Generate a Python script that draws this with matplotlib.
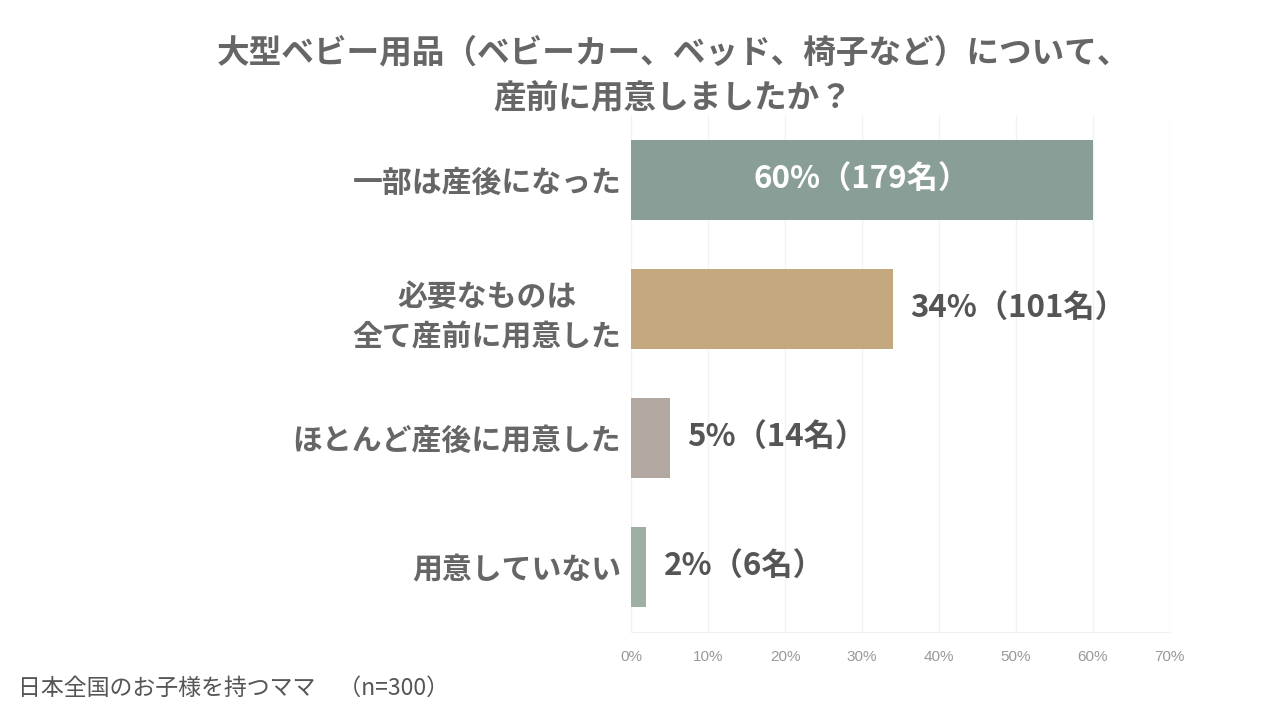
import matplotlib
matplotlib.use("Agg")
import matplotlib.pyplot as plt

plt.rcParams["font.family"] = ["Noto Sans CJK JP", "DejaVu Sans"]

categories = ["一部は産後になった", "必要なものは\n全て産前に用意した", "ほとんど産後に用意した", "用意していない"]
percents = [60, 34, 5, 2]
counts = [179, 101, 14, 6]
colors = ["#8a9e98", "#c4a880", "#b3a7a1", "#9db0a3"]
xticks = [0, 10, 20, 30, 40, 50, 60, 70]

title = "大型ベビー用品（ベビーカー、ベッド、椅子など）について、\n産前に用意しましたか？"
note = "日本全国のお子様を持つママ　（n=300）"

fig = plt.figure(figsize=(12.8, 7.2), dpi=100)
ax = fig.add_axes([0.493, 0.1229, 0.421, 0.7167])

y = list(range(len(categories)))
ax.barh(y, percents, height=0.62, color=colors, zorder=3)
ax.set_ylim(len(categories) - 0.5, -0.5)
ax.set_xlim(0, 70)

for i, (p, c) in enumerate(zip(percents, counts)):
    label = f"{p}%（{c}名）"
    if p > 40:
        ax.text(p / 2, i, label, ha="center", va="center", color="white",
                fontsize=22.5, fontweight="bold", zorder=4)
    else:
        ax.text(p + 2.3, i, label, ha="left", va="center", color="#555555",
                fontsize=22.5, fontweight="bold", zorder=4)

ax.set_yticks(y)
ax.set_yticklabels(categories, fontsize=21.5, fontweight="bold", color="#666666",
                   linespacing=1.45, multialignment="center")
ax.set_xticks(xticks)
ax.set_xticklabels([f"{t}%" for t in xticks], fontsize=11, color="#999999",
                   family=["Liberation Sans", "DejaVu Sans"])
ax.tick_params(axis="y", length=0, pad=7)
ax.tick_params(axis="x", length=0, pad=13)
ax.grid(axis="x", color="#f2f2f2", linewidth=1, zorder=0)
for s in ["top", "right", "left"]:
    ax.spines[s].set_visible(False)
ax.spines["bottom"].set_color("#f0f0f0")

fig.text(0.526, 0.895, title, ha="center", va="center", fontsize=23.5,
         fontweight="bold", color="#666666", linespacing=1.5)
fig.text(0.014, 0.044, note, ha="left", va="center", fontsize=16.5, color="#555555")

fig.savefig("out.png", dpi=100)
